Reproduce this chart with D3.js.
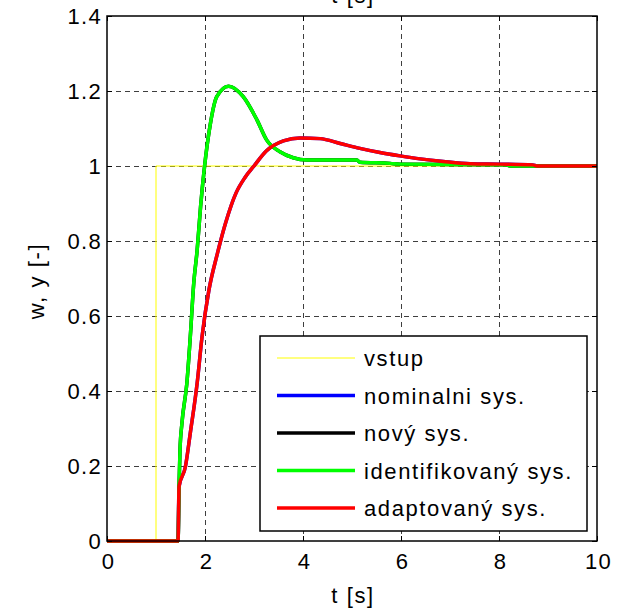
<!DOCTYPE html>
<html>
<head>
<meta charset="utf-8">
<script src="https://cdn.jsdelivr.net/npm/d3@7/dist/d3.min.js"></script>
<style>
	body { margin: 0; background: #fff; }
	text { font-family: Arial, "Liberation Sans", sans-serif; fill: #000; }
</style>
</head>
<body>
<div id="chart"></div>
<script>
// step input
const inputT = [0, 1, 1, 10]
const inputY = [0, 0, 1, 1]

// identified system (new system is nearly the same)
const identT = [0, 1.45, 1.47, 1.49, 1.53, 1.63, 1.70, 1.77, 1.84, 1.91, 1.99, 2.10, 2.24, 2.48, 2.78, 3.06, 3.26, 3.53, 3.80, 4.08, 5.10, 5.16, 5.78, 5.98, 8.16, 8.22, 10]
const identY = [0, 0, 0.145, 0.243, 0.315, 0.421, 0.545, 0.687, 0.776, 0.892, 0.998, 1.105, 1.185, 1.213, 1.185, 1.123, 1.069, 1.038, 1.022, 1.016, 1.016, 1.010, 1.007, 1.005, 1.003, 1.0, 1.0]
const newT = identT
const newY = identY

// adapted system (nominal system is nearly the same)
const adaptT = [0, 1.45, 1.47, 1.60, 1.70, 1.84, 1.94, 2.08, 2.25, 2.42, 2.63, 2.82, 3.0, 3.25, 3.60, 3.94, 4.35, 4.76, 5.16, 5.57, 5.98, 6.39, 6.86, 7.41, 8.02, 8.69, 8.77, 10]
const adaptY = [0, 0, 0.145, 0.198, 0.288, 0.421, 0.545, 0.669, 0.765, 0.848, 0.927, 0.970, 1.0, 1.040, 1.067, 1.075, 1.073, 1.060, 1.047, 1.036, 1.027, 1.019, 1.012, 1.006, 1.005, 1.003, 1.0, 1.0]
const nominalT = adaptT
const nominalY = adaptY

const xTicks = [0, 2, 4, 6, 8, 10]
const yTicks = [0, 0.2, 0.4, 0.6, 0.8, 1, 1.2, 1.4]

const series = [
	{ name: "vstup", t: inputT, y: inputY, color: "#ffff00", width: 1, curve: d3.curveLinear },
	{ name: "nominalni sys.", t: nominalT, y: nominalY, color: "#0000ff", width: 3.5, curve: d3.curveMonotoneX },
	{ name: "nový sys.", t: newT, y: newY, color: "#000000", width: 3.5, curve: d3.curveMonotoneX },
	{ name: "identifikovaný sys.", t: identT, y: identY, color: "#00ff00", width: 3.5, curve: d3.curveMonotoneX },
	{ name: "adaptovaný sys.", t: adaptT, y: adaptY, color: "#ff0000", width: 3.5, curve: d3.curveMonotoneX }
]

const W = 619, H = 609
const mLeft = 107, mRight = 597, mTop = 16, mBottom = 541

const svg = d3.select("#chart").append("svg").attr("width", W).attr("height", H)

const xs = d3.scaleLinear().domain([0, 10]).range([mLeft, mRight])
const ys = d3.scaleLinear().domain([0, 1.4]).range([mBottom, mTop])

// dashed grid on the inner ticks
const grid = svg.append("g").attr("stroke", "#000").attr("stroke-width", 1).attr("stroke-dasharray", "5,4").attr("opacity", 0.75)
grid.selectAll("line.gx").data(xTicks.slice(1, -1)).join("line")
	.attr("x1", d => xs(d) + 0.5).attr("x2", d => xs(d) + 0.5)
	.attr("y1", mTop).attr("y2", mBottom)
grid.selectAll("line.gy").data(yTicks.slice(1, -1)).join("line")
	.attr("x1", mLeft).attr("x2", mRight)
	.attr("y1", d => Math.round(ys(d)) + 0.5).attr("y2", d => Math.round(ys(d)) + 0.5)

// data lines
const plot = svg.append("g")
series.forEach(s => {
	const pts = s.t.map((t, i) => [t, s.y[i]])
	plot.append("path")
		.datum(pts)
		.attr("fill", "none")
		.attr("stroke", s.color)
		.attr("stroke-width", s.width)
		.attr("stroke-linejoin", "round")
		.attr("d", d3.line().curve(s.curve).x(d => xs(d[0])).y(d => ys(d[1])))
})

// axes, ticks inside on all four sides
const styleAxis = g => {
	g.select(".domain").remove()
	g.selectAll("line").attr("stroke", "#000")
	g.selectAll("text").style("font-size", "22px").style("letter-spacing", "1.3px")
}
svg.append("g").attr("transform", `translate(0,${mBottom})`)
	.call(d3.axisBottom(xs).tickValues(xTicks).tickSizeInner(-5).tickSizeOuter(0).tickPadding(12).tickFormat(d3.format("d")))
	.call(styleAxis)
	.selectAll("text").attr("dx", "1px")
svg.append("g").attr("transform", `translate(0,${mTop})`)
	.call(d3.axisTop(xs).tickValues(xTicks).tickSizeInner(-5).tickSizeOuter(0).tickFormat(""))
	.call(styleAxis)
svg.append("g").attr("transform", `translate(${mLeft},0)`)
	.call(d3.axisLeft(ys).tickValues(yTicks).tickSizeInner(-5).tickSizeOuter(0).tickPadding(5).tickFormat(d => d3.format("")(+d.toFixed(1))))
	.call(styleAxis)
svg.append("g").attr("transform", `translate(${mRight},0)`)
	.call(d3.axisRight(ys).tickValues(yTicks).tickSizeInner(-5).tickSizeOuter(0).tickFormat(""))
	.call(styleAxis)

svg.append("rect")
	.attr("x", mLeft).attr("y", mTop).attr("width", mRight - mLeft).attr("height", mBottom - mTop)
	.attr("fill", "none").attr("stroke", "#000").attr("stroke-width", 1.5)

// labels
const label = (txt, x, y, rot) => svg.append("text")
	.attr("transform", `translate(${x},${y})` + (rot ? ` rotate(${rot})` : ""))
	.attr("text-anchor", "middle")
	.style("font-size", "22px").style("letter-spacing", "1.6px")
	.text(txt)
label("t [s]", (mLeft + mRight) / 2 + 1, 603)
label("t [s]", (mLeft + mRight) / 2 + 1, 3)
label("w, y [-]", 44, 281, -90)

// legend
const lg = svg.append("g").attr("transform", "translate(260,336)")
lg.append("rect").attr("width", 327).attr("height", 195).attr("fill", "#fff").attr("stroke", "#000").attr("stroke-width", 1.5)
series.forEach((s, i) => {
	const yy = 22 + i * 37.5
	lg.append("line").attr("x1", 17).attr("x2", 95).attr("y1", yy).attr("y2", yy)
		.attr("stroke", s.color).attr("stroke-width", s.width)
	lg.append("text").attr("x", 104).attr("y", yy + 8)
		.style("font-size", "22px").style("letter-spacing", "1.6px")
		.text(s.name)
})
</script>
</body>
</html>
